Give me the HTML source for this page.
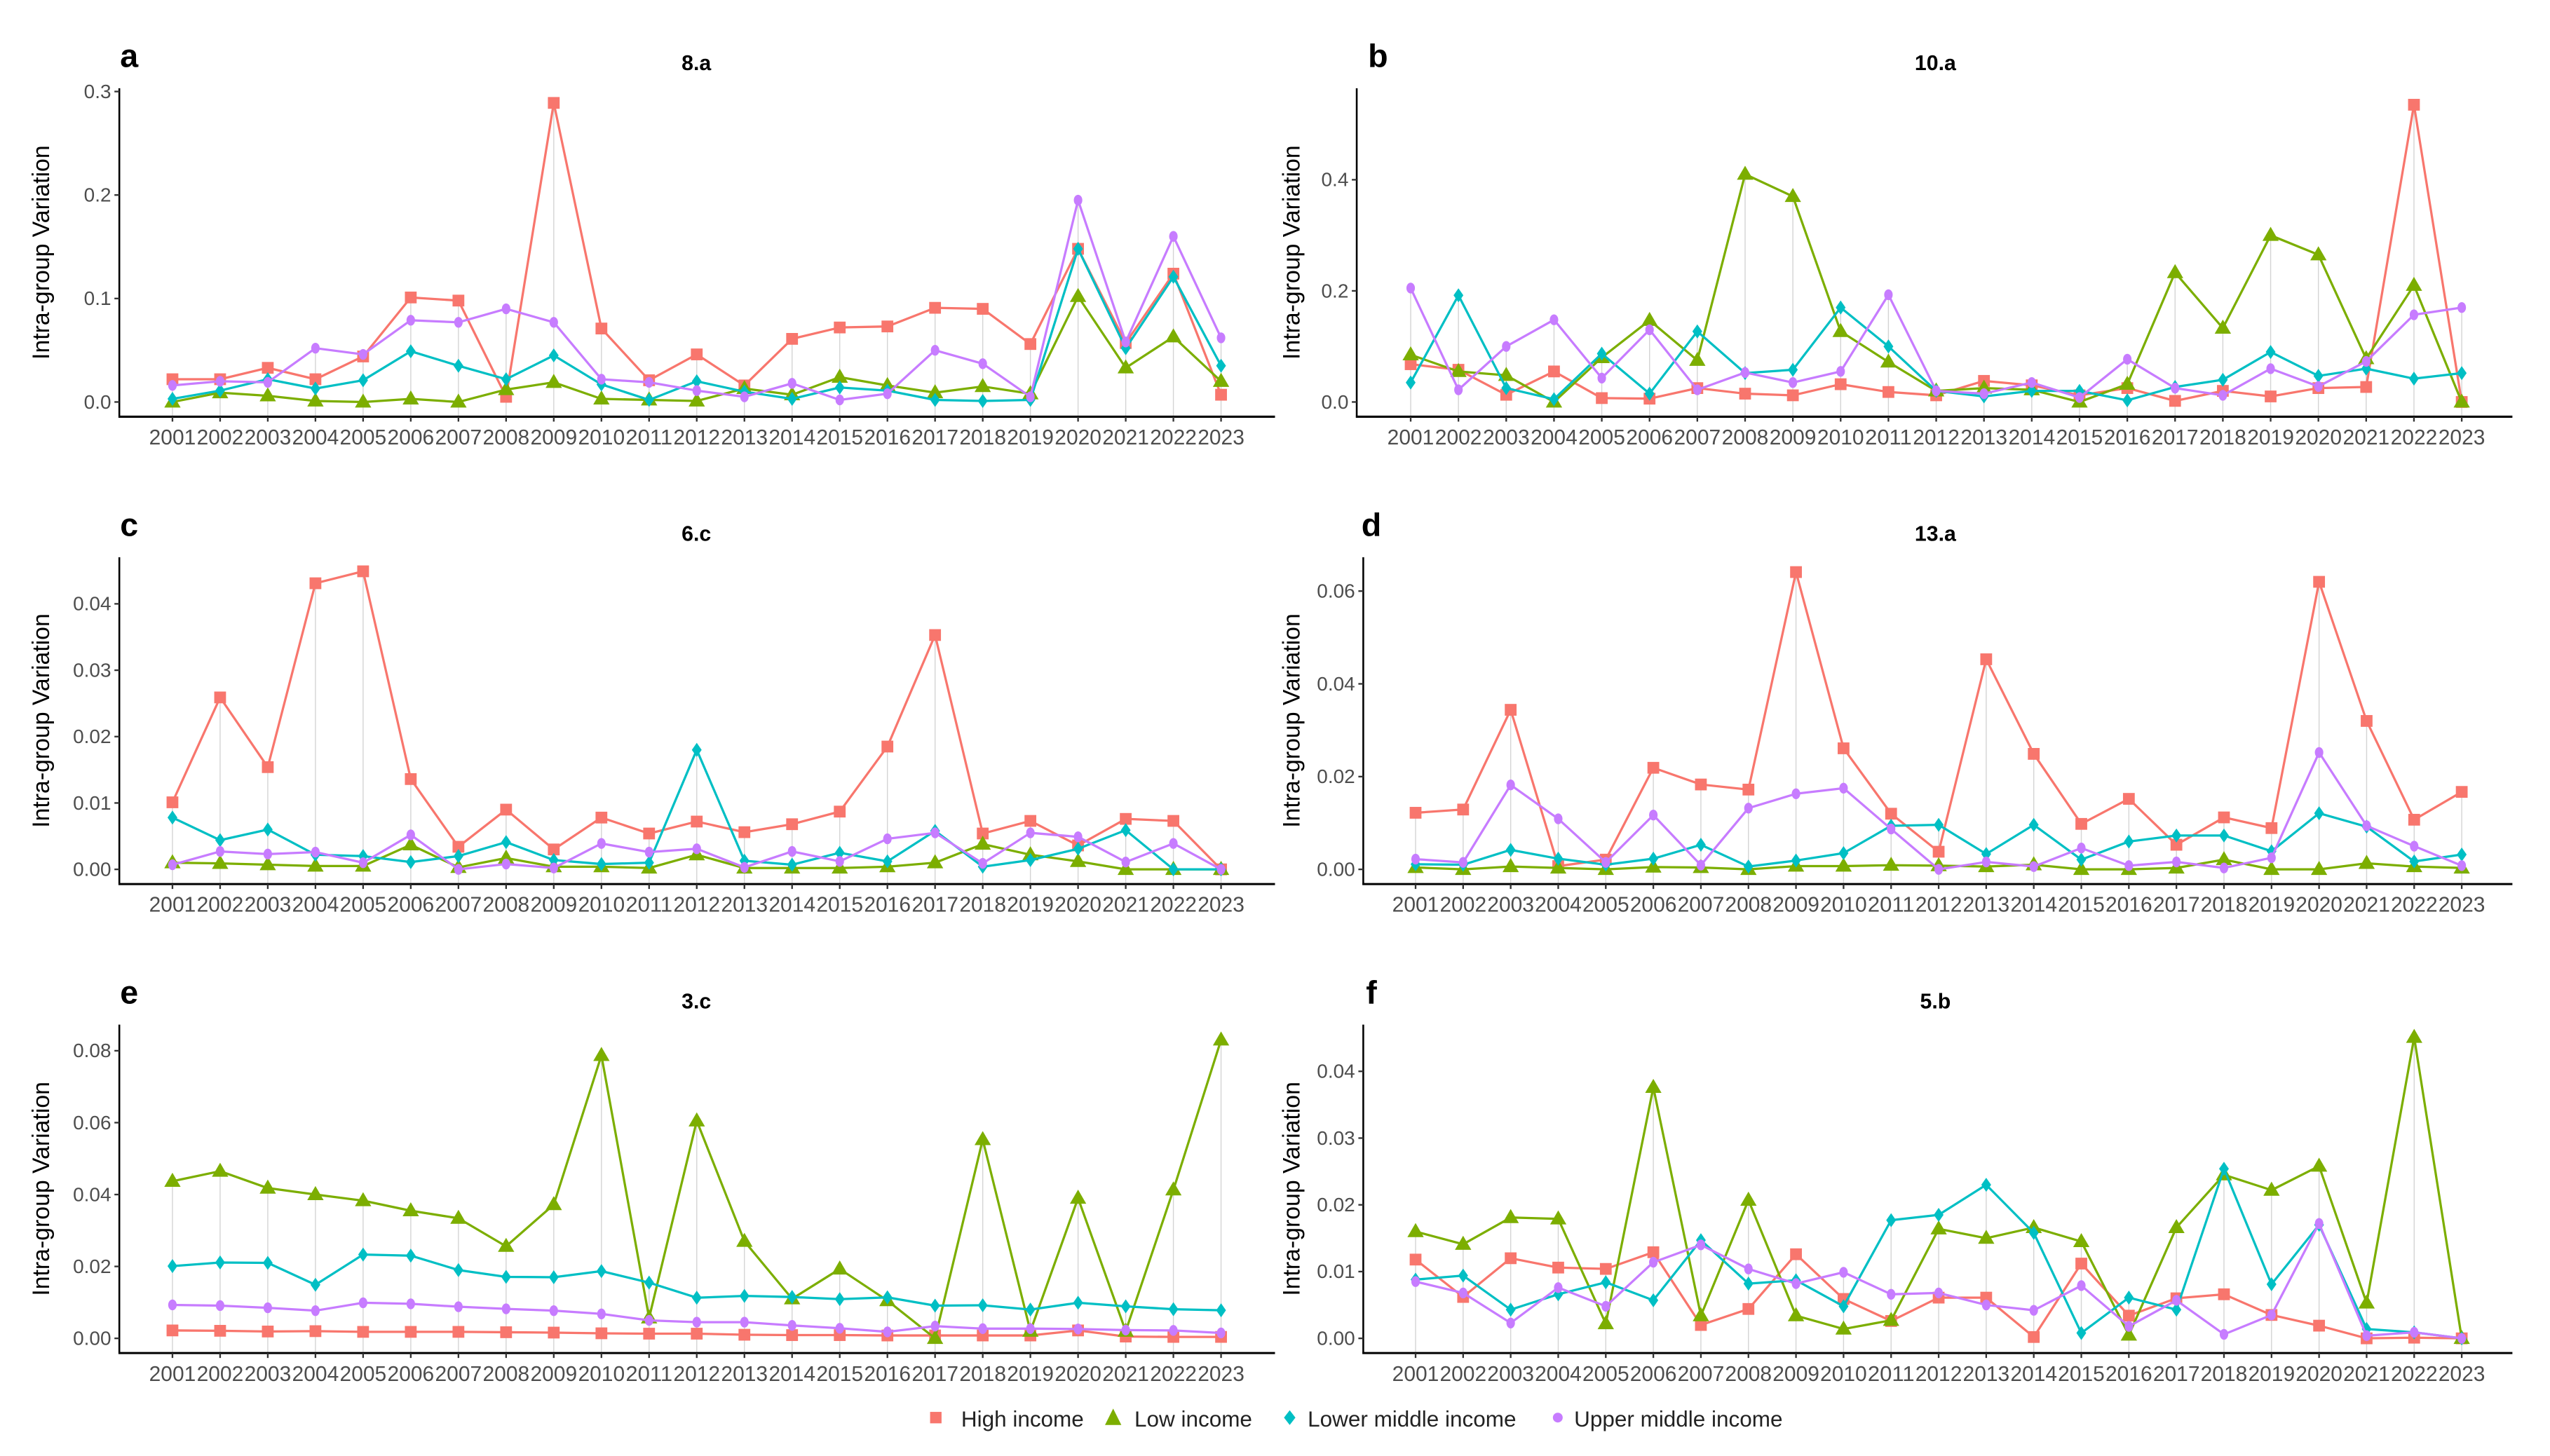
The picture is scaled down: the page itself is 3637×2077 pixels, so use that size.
<!DOCTYPE html>
<html><head><meta charset="utf-8"><style>
html,body{margin:0;padding:0;background:#fff;}
svg{display:block;font-family:"Liberation Sans",sans-serif;}
</style></head><body>
<svg id="fig" width="3637" height="2077" viewBox="0 0 1560 891" preserveAspectRatio="none" xmlns="http://www.w3.org/2000/svg">
<rect width="1560" height="891" fill="#fff"/>
<g id="legend" font-size="13.5" fill="#222">
 <g><rect x="569" y="864" width="7" height="7" fill="#F8766D"/><text x="588" y="873">High income</text></g>
 <g><polygon points="681,862 686,872 676,872" fill="#7CAE00"/><text x="694" y="873">Low income</text></g>
 <g><polygon points="789,863 792.5,867.5 789,872 785.5,867.5" fill="#00BFC4"/><text x="800" y="873">Lower middle income</text></g>
 <g><circle cx="953" cy="867.5" r="3" fill="#C77CFF"/><text x="963" y="873">Upper middle income</text></g>
</g>
</svg>
<script>
const years=[2001,2002,2003,2004,2005,2006,2007,2008,2009,2010,2011,2012,2013,2014,2015,2016,2017,2018,2019,2020,2021,2022,2023];
const seriesNames=["High income","Low income","Lower middle income","Upper middle income"];
const seriesColors=["#F8766D","#7CAE00","#00BFC4","#C77CFF"];

const aHigh=[.022,.022,.033,.022,.044,.101,.098,.005,.289,.071,.021,.046,.016,.061,.072,.073,.091,.090,.056,.148,.057,.124,.007];
const aLow=[0,.009,.006,.001,0,.003,0,.012,.019,.003,.002,.001,.013,.007,.024,.016,.009,.015,.008,.102,.033,.063,.020];
const aLowerMid=[.003,.011,.022,.013,.021,.049,.035,.022,.045,.017,.002,.020,.010,.003,.014,.011,.002,.001,.002,.148,.052,.121,.035];
const aUpperMid=[.016,.020,.019,.052,.046,.079,.077,.090,.077,.022,.019,.011,.005,.018,.002,.008,.050,.037,.005,.195,.058,.160,.062];
const aTicks=[0,0.1,0.2,0.3];
const aTickLabels=["0.0","0.1","0.2","0.3"];

const bHigh=[.068,.058,.013,.055,.007,.006,.025,.015,.012,.032,.018,.012,.038,.030,.012,.025,.002,.020,.010,.025,.027,.535,0];
const bLow=[.085,.055,.048,0,.080,.147,.075,.410,.370,.127,.072,.020,.025,.022,0,.032,.233,.133,.300,.265,.078,.210,0];
const bLowerMid=[.035,.192,.025,.005,.087,.015,.127,.052,.058,.170,.100,.020,.010,.020,.020,.003,.027,.040,.090,.047,.060,.042,.052];
const bUpperMid=[.205,.022,.100,.148,.043,.130,.022,.053,.035,.055,.193,.020,.015,.035,.008,.077,.025,.012,.060,.028,.073,.157,.170];
const bTicks=[0,0.2,0.4];
const bTickLabels=["0.0","0.2","0.4"];

const cHigh=[.0101,.0259,.0154,.0431,.0449,.0136,.0034,.0090,.0030,.0078,.0054,.0072,.0056,.0068,.0087,.0185,.0353,.0054,.0073,.0036,.0076,.0073,0];
const cLow=[.0010,.0009,.0007,.0005,.0005,.0037,.0003,.0017,.0004,.0004,.0002,.0022,.0002,.0002,.0002,.0004,.0010,.0038,.0022,.0012,0,0,0];
const cLowerMid=[.0078,.0044,.0060,.0022,.0020,.0011,.0020,.0041,.0014,.0008,.0010,.0180,.0013,.0007,.0025,.0012,.0058,.0004,.0014,.0031,.0059,0,0];
const cUpperMid=[.0007,.0027,.0023,.0026,.0010,.0052,0,.0008,.0002,.0039,.0026,.0031,.0003,.0027,.0012,.0046,.0055,.0009,.0055,.0049,.0011,.0039,0];
const cTicks=[0,.01,.02,.03,.04];
const cTickLabels=["0.00","0.01","0.02","0.03","0.04"];

const dHigh=[.0122,.0129,.0344,.0007,.0021,.0219,.0183,.0172,.0641,.0261,.0120,.0038,.0453,.0249,.0098,.0152,.0053,.0112,.0089,.0620,.0320,.0107,.0167];
const dLow=[.0004,0,.0006,.0003,0,.0005,.0004,0,.0007,.0007,.0009,.0008,.0006,.0010,0,0,.0003,.0021,0,0,.0013,.0006,.0003];
const dLowerMid=[.0011,.0010,.0042,.0023,.0010,.0023,.0053,.0006,.0019,.0035,.0094,.0096,.0033,.0096,.0021,.0060,.0073,.0073,.0039,.0121,.0092,.0017,.0032];
const dUpperMid=[.0022,.0015,.0182,.0109,.0015,.0117,.0009,.0132,.0163,.0175,.0087,0,.0016,.0006,.0046,.0008,.0016,.0003,.0025,.0252,.0094,.0050,.0008];
const dTicks=[0,.02,.04,.06];
const dTickLabels=["0.00","0.02","0.04","0.06"];

const eHigh=[.0022,.0021,.0019,.0020,.0018,.0018,.0018,.0017,.0016,.0014,.0013,.0013,.0010,.0009,.0009,.0008,.0008,.0008,.0008,.0022,.0005,.0004,.0004];
const eLow=[.0437,.0465,.0418,.0400,.0383,.0355,.0334,.0256,.0372,.0787,.0057,.0605,.0270,.0110,.0193,.0105,0,.0553,.0020,.0390,.0020,.0413,.0830];
const eLowerMid=[.0201,.0211,.0210,.0149,.0233,.0230,.0190,.0171,.0170,.0187,.0155,.0113,.0118,.0115,.0109,.0114,.0091,.0092,.0080,.0099,.0089,.0081,.0078];
const eUpperMid=[.0093,.0091,.0085,.0077,.0099,.0096,.0088,.0082,.0077,.0068,.0050,.0045,.0045,.0036,.0028,.0018,.0034,.0027,.0027,.0026,.0023,.0022,.0015];
const eTicks=[0,.02,.04,.06,.08];
const eTickLabels=["0.00","0.02","0.04","0.06","0.08"];

const fHigh=[.0118,.0062,.0120,.0106,.0104,.0129,.0020,.0044,.0126,.0059,.0026,.0061,.0061,.0002,.0112,.0034,.0060,.0066,.0035,.0019,0,.0001,0];
const fLow=[.0160,.0141,.0181,.0179,.0022,.0376,.0034,.0207,.0034,.0014,.0027,.0164,.0150,.0166,.0145,.0005,.0166,.0245,.0222,.0258,.0053,.0451,0];
const fLowerMid=[.0088,.0094,.0043,.0066,.0084,.0057,.0147,.0082,.0087,.0048,.0177,.0185,.0230,.0158,.0008,.0061,.0043,.0254,.0081,.0170,.0014,.0009,0];
const fUpperMid=[.0085,.0068,.0023,.0076,.0048,.0114,.0140,.0104,.0082,.0099,.0066,.0068,.0050,.0042,.0079,.0018,.0057,.0006,.0035,.0172,.0004,.0009,0];
const fTicks=[0,.01,.02,.03,.04];
const fTickLabels=["0.00","0.01","0.02","0.03","0.04"];

const NS="http://www.w3.org/2000/svg";
const svg=document.getElementById('fig');
function mk(tag,attrs,parent){const e=document.createElementNS(NS,tag);for(const k in attrs)e.setAttribute(k,attrs[k]);(parent||svg).appendChild(e);return e;}

const panels=[
 {letter:"a",title:"8.a",series:[aHigh,aLow,aLowerMid,aUpperMid],ticks:aTicks,labels:aTickLabels,y0:246,ppu:633.3,ax:73,x0:105.5,x1:747,xEnd:780,top:54,bottom:255,titleX:426,ty:38,ly:34,lx:79,ytx:30},
 {letter:"b",title:"10.a",series:[bHigh,bLow,bLowerMid,bUpperMid],ticks:bTicks,labels:bTickLabels,y0:246,ppu:340,ax:830,x0:863,x1:1506,xEnd:1537,top:54,bottom:255,titleX:1184,ty:38,ly:34,lx:843,ytx:795},
 {letter:"c",title:"6.c",series:[cHigh,cLow,cLowerMid,cUpperMid],ticks:cTicks,labels:cTickLabels,y0:532,ppu:4062,ax:73,x0:105.5,x1:747,xEnd:780,top:341,bottom:541,titleX:426,ty:326,ly:321,lx:79,ytx:30},
 {letter:"d",title:"13.a",series:[dHigh,dLow,dLowerMid,dUpperMid],ticks:dTicks,labels:dTickLabels,y0:532,ppu:2838,ax:834,x0:866,x1:1506,xEnd:1537,top:341,bottom:541,titleX:1184,ty:326,ly:321,lx:839,ytx:795},
 {letter:"e",title:"3.c",series:[eHigh,eLow,eLowerMid,eUpperMid],ticks:eTicks,labels:eTickLabels,y0:819,ppu:2200,ax:73,x0:105.5,x1:747,xEnd:780,top:627,bottom:828,titleX:426,ty:612,ly:607,lx:79,ytx:30},
 {letter:"f",title:"5.b",series:[fHigh,fLow,fLowerMid,fUpperMid],ticks:fTicks,labels:fTickLabels,y0:819,ppu:4085,ax:834,x0:866,x1:1506,xEnd:1537,top:627,bottom:828,titleX:1184,ty:612,ly:607,lx:839,ytx:795}
];

function marker(g,k,x,y,col){
 let m;
 if(k===0){m=mk('rect',{x:x-3.6,y:y-3.6,width:7.2,height:7.2,fill:col},g);}
 else if(k===1){m=mk('polygon',{points:`${x},${y-5.2} ${x+5},${y+3.4} ${x-5},${y+3.4}`,fill:col},g);}
 else if(k===2){m=mk('polygon',{points:`${x},${y-4.3} ${x+3},${y} ${x},${y+4.3} ${x-3},${y}`,fill:col},g);}
 else {m=mk('ellipse',{cx:x,cy:y,rx:2.6,ry:3.3,fill:col},g);}
 
 
}

panels.forEach(p=>{
 const g=mk('g',{});
 
 
 const yScale=v=>p.y0-v*p.ppu;
 const xScale=i=>p.x0+(p.x1-p.x0)*i/(years.length-1);
 years.forEach((yr,i)=>{
  let mx=Math.max(...p.series.map(s=>s[i]));
  const l=mk('line',{x1:xScale(i),x2:xScale(i),y1:p.bottom,y2:yScale(mx),stroke:"#d4d4d4","stroke-width":0.6},g);
  
  
 });
 const ya=mk('line',{x1:p.ax,x2:p.ax,y1:p.top,y2:p.bottom+0.6,stroke:"#000","stroke-width":1.1},g);
 
 
 const xa=mk('line',{x1:p.ax-0.5,x2:p.xEnd,y1:p.bottom,y2:p.bottom,stroke:"#000","stroke-width":1.3},g);
 
 
 p.ticks.forEach((t,j)=>{
  const yy=yScale(t);
  mk('line',{x1:p.ax-3,x2:p.ax,y1:yy,y2:yy,stroke:"#333","stroke-width":1},g);
  const tx=mk('text',{x:p.ax-5,y:yy+4,"text-anchor":"end","font-size":12,fill:"#4d4d4d"},g);
  tx.textContent=p.labels[j];
  
  
 });
 years.forEach((yr,i)=>{
  const x=xScale(i);
  mk('line',{x1:x,x2:x,y1:p.bottom,y2:p.bottom+3,stroke:"#333","stroke-width":1},g);
  const tx=mk('text',{x:x,y:p.bottom+17,"text-anchor":"middle","font-size":13,fill:"#4d4d4d","textLength":28.6,"lengthAdjust":"spacingAndGlyphs"},g);
  tx.textContent=yr;
  
  
 });
 p.series.forEach((s,k)=>{
  const sg=mk('g',{},g);
  
  
  const pts=s.map((v,i)=>xScale(i).toFixed(2)+','+yScale(v).toFixed(2)).join(' ');
  const pl=mk('polyline',{points:pts,fill:"none",stroke:seriesColors[k],"stroke-width":1.4,"stroke-linejoin":"round"},sg);
  
  
  s.forEach((v,i)=>marker(sg,k,xScale(i),yScale(v),seriesColors[k]));
 });
 const tt=mk('text',{x:p.titleX,y:p.ty+5,"text-anchor":"middle","font-size":13,"font-weight":"bold",fill:"#000"},g);
 tt.textContent=p.title;
 
 
 const lt=mk('text',{x:p.lx,y:p.ly+7,"text-anchor":"middle","font-size":20,"font-weight":"bold",fill:"#000"},g);
 lt.textContent=p.letter;
 
 
 const cy=(p.top+p.bottom)/2;
 const yt=mk('text',{x:p.ytx,y:cy,"text-anchor":"middle","font-size":14.5,fill:"#000",transform:`rotate(-90 ${p.ytx} ${cy})`},g);
 yt.textContent="Intra-group Variation";
 
 
});
</script>
</body></html>
